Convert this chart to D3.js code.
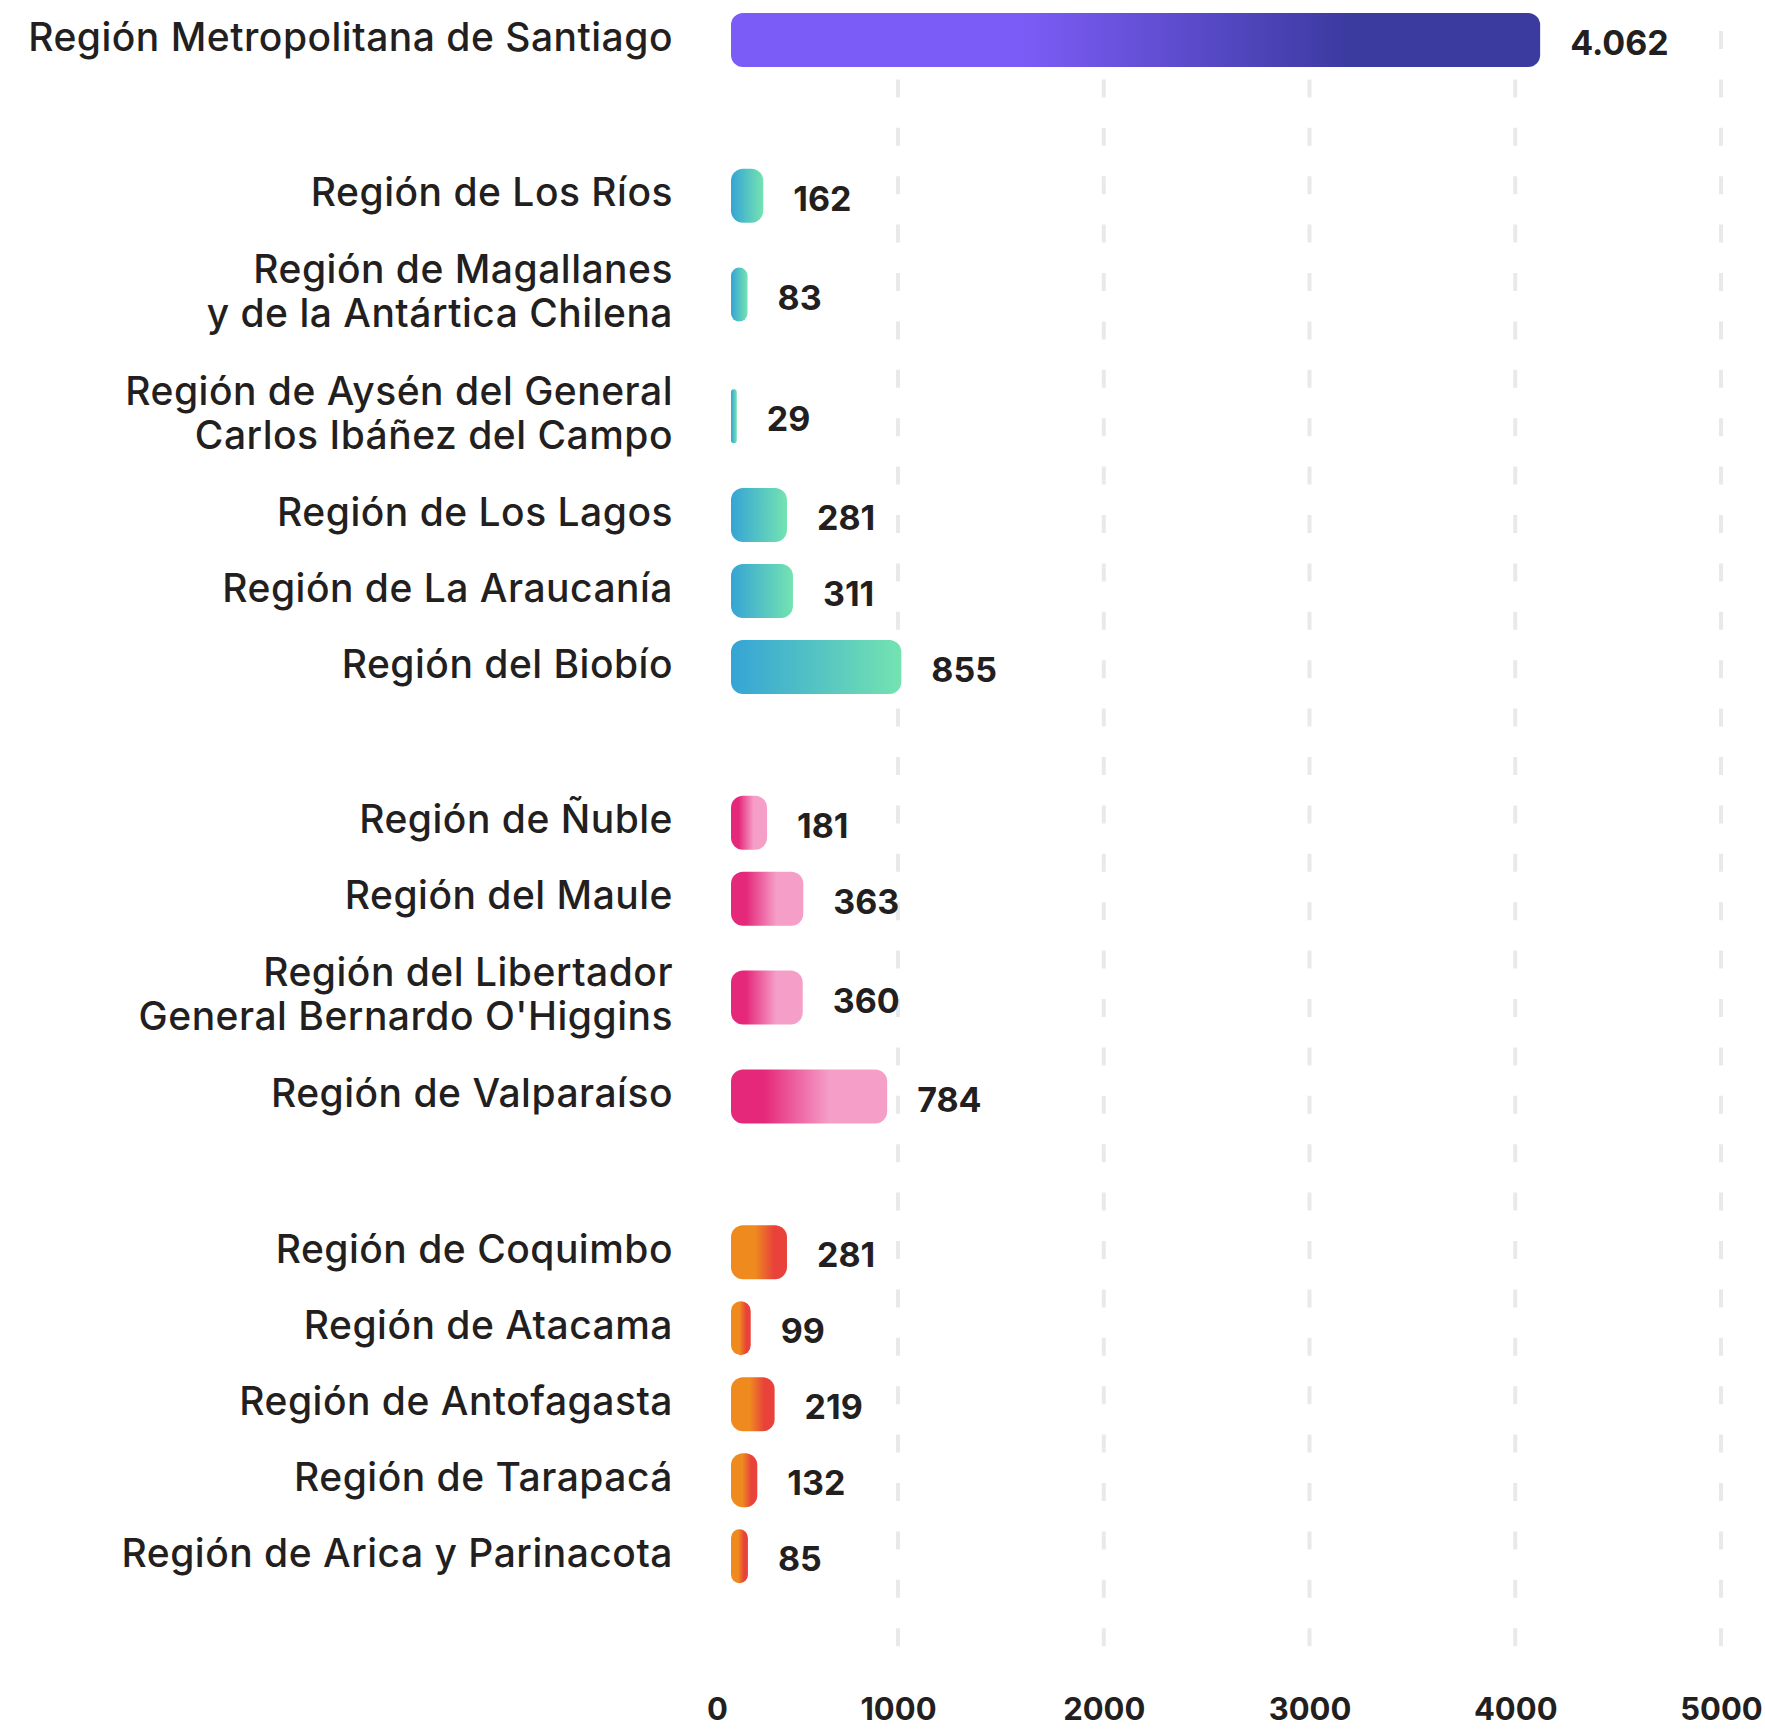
<!DOCTYPE html>
<html>
<head>
<meta charset="utf-8">
<script src="https://cdn.jsdelivr.net/npm/d3@7"></script>
<style>
  body { margin: 0; background: #fff; }
  .label { font-family: Inter, "Noto Sans", sans-serif; font-weight: 500; fill: #231f20; letter-spacing: 0.5px; }
  .value { font-family: Inter, "Noto Sans", sans-serif; font-weight: 700; fill: #231f20; }
  .xaxis text { font-family: Inter, "Noto Sans", sans-serif; font-weight: 700; fill: #231f20; }
</style>
</head>
<body>
<div id="chart"></div>
<script>
// Data
var regions = [
  "Región Metropolitana de Santiago",
  "Región de Los Ríos",
  "Región de Magallanes\ny de la Antártica Chilena",
  "Región de Aysén del General\nCarlos Ibáñez del Campo",
  "Región de Los Lagos",
  "Región de La Araucanía",
  "Región del Biobío",
  "Región de Ñuble",
  "Región del Maule",
  "Región del Libertador\nGeneral Bernardo O'Higgins",
  "Región de Valparaíso",
  "Región de Coquimbo",
  "Región de Atacama",
  "Región de Antofagasta",
  "Región de Tarapacá",
  "Región de Arica y Parinacota"
];
var values = [4062, 162, 83, 29, 281, 311, 855, 181, 363, 360, 784, 281, 99, 219, 132, 85];
var valueLabels = ["4.062", "162", "83", "29", "281", "311", "855", "181", "363", "360", "784", "281", "99", "219", "132", "85"];
var groups = [0, 1, 1, 1, 1, 1, 1, 2, 2, 2, 2, 3, 3, 3, 3, 3];
var tickValues = [0, 1000, 2000, 3000, 4000, 5000];

// gradient stops per group
var gradients = [
  [[0, "#7c5cf6"], [0.36, "#7c5cf6"], [0.77, "#3a3a9f"], [1, "#3a3a9f"]],
  [[0, "#35a4d5"], [1, "#74e3b1"]],
  [[0, "#e5287a"], [0.21, "#e5287a"], [0.63, "#f59ec8"], [1, "#f59ec8"]],
  [[0, "#ef8a1f"], [0.43, "#ef8a1f"], [0.77, "#e8423a"], [1, "#e8423a"]]
];

var width = 1765, height = 1729;

var svg = d3.select("#chart")
  .append("svg")
  .attr("width", width)
  .attr("height", height);

// row slots (two-line labels take more room, gap between groups)
var groupGap = 1.05;
var slots = [];
var pos = 0, prevH = 1;
regions.forEach(function(r, i) {
  var h = r.indexOf("\n") >= 0 ? 1.6 : 1;
  if (i > 0) {
    pos += 0.5 * (prevH + h);
    if (groups[i] !== groups[i - 1]) pos += groupGap;
  }
  slots.push(pos);
  prevH = h;
});

// Scales
var yScale = d3.scaleLinear().domain([0, 1]).range([40, 116]);
var xBar = d3.scaleLinear().domain([0, 5000]).range([731, 1727]);
var xAxisScale = d3.scaleLinear().domain([0, 1000, 5000]).range([717, 898, 1721]);

var barHeight = 54;

// gradients
var defs = svg.append("defs");
gradients.forEach(function(stops, g) {
  var lg = defs.append("linearGradient")
    .attr("id", "grad" + g)
    .attr("x1", 0).attr("x2", 1).attr("y1", 0).attr("y2", 0);
  stops.forEach(function(s) {
    lg.append("stop").attr("offset", s[0]).attr("stop-color", s[1]);
  });
});

// gridlines
svg.append("g")
  .selectAll("line")
  .data(tickValues.filter(function(d) { return d > 0; }))
  .enter()
  .append("line")
  .attr("x1", function(d) { return xAxisScale(d); })
  .attr("x2", function(d) { return xAxisScale(d); })
  .attr("y1", 31)
  .attr("y2", 1650)
  .attr("stroke", "#e9e9e9")
  .attr("stroke-width", 4)
  .attr("stroke-dasharray", "18 30.4");

// x axis
var xAxis = d3.axisBottom(xAxisScale).tickValues(tickValues).tickSize(0).tickPadding(0).tickFormat(d3.format("d"));
svg.append("g")
  .attr("class", "xaxis")
  .attr("transform", "translate(0,1695)")
  .call(xAxis)
  .call(function(g) { g.select(".domain").remove(); })
  .selectAll("text")
  .attr("font-size", 31)
  .attr("dy", "0.8em");

// rows
var rows = svg.append("g")
  .selectAll(".row")
  .data(regions)
  .enter()
  .append("g")
  .attr("class", "row");

rows.append("rect")
  .attr("x", xBar(0))
  .attr("y", function(d, i) { return yScale(slots[i]) - barHeight / 2; })
  .attr("width", function(d, i) { return xBar(values[i]) - xBar(0); })
  .attr("height", barHeight)
  .attr("rx", function(d, i) { return Math.min(12, (xBar(values[i]) - xBar(0)) / 2); })
  .style("fill", function(d, i) { return "url(#grad" + groups[i] + ")"; });

rows.append("text")
  .attr("class", "value")
  .attr("x", function(d, i) { return xBar(values[i]) + 30; })
  .attr("y", function(d, i) { return yScale(slots[i]) + 3; })
  .attr("dy", "0.36em")
  .attr("font-size", 34)
  .text(function(d, i) { return valueLabels[i]; });

var labels = rows.append("text")
  .attr("class", "label")
  .attr("text-anchor", "end")
  .attr("font-size", 39)
  .attr("y", function(d, i) { return yScale(slots[i]); });

labels.each(function(d, i) {
  var lines = d.split("\n");
  var t = d3.select(this);
  lines.forEach(function(line, j) {
    t.append("tspan")
      .attr("x", 673)
      .attr("y", yScale(slots[i]) + (j - (lines.length - 1) / 2) * 44 - 3)
      .attr("dy", "0.35em")
      .text(line);
  });
});
</script>
</body>
</html>
